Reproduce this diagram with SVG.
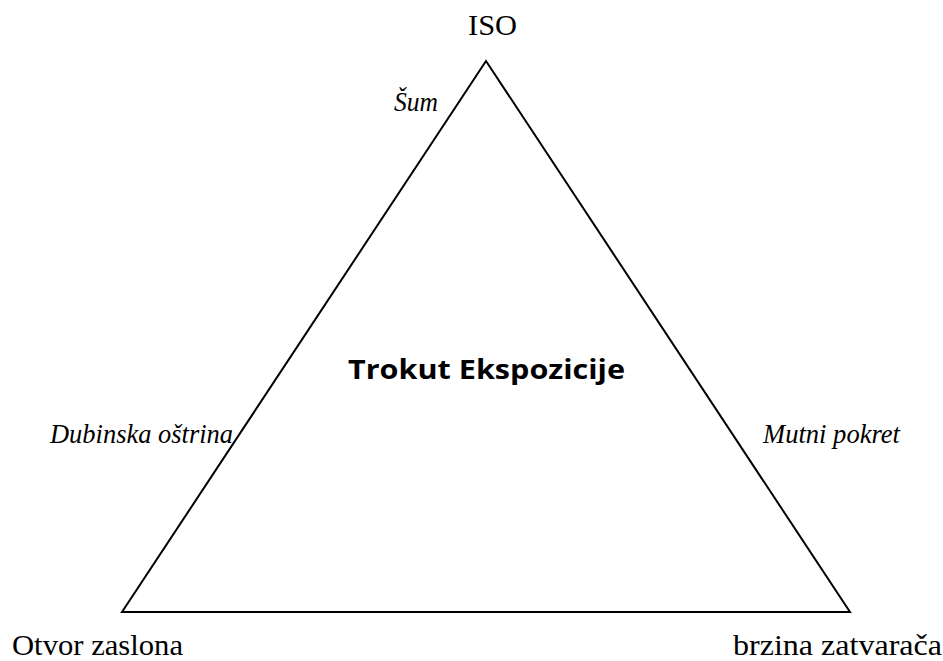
<svg xmlns="http://www.w3.org/2000/svg" width="943" height="661" viewBox="0 0 943 661">
<style>
.lbl{font-family:"Liberation Serif","Times New Roman",serif;font-size:30px;fill:#000}
.it{font-family:"Liberation Serif","Times New Roman",serif;font-size:26.5px;font-style:italic;fill:#000}
.ttl{font-family:"Open Sans","Noto Sans",sans-serif;font-size:26px;font-weight:bold;fill:#000}
</style>
<rect width="943" height="661" fill="#fff"/>
<g id="connectors">
<polygon points="486,61 122,612 850,612" fill="none" stroke="#000" stroke-width="2" stroke-linejoin="miter"/>
</g>
<g id="node-iso"><text class="lbl" x="468" y="35" textLength="49" lengthAdjust="spacingAndGlyphs">ISO</text></g>
<g id="node-otvor"><text class="lbl" x="12" y="655" textLength="171" lengthAdjust="spacingAndGlyphs">Otvor zaslona</text></g>
<g id="node-brzina"><text class="lbl" x="733" y="655" textLength="209" lengthAdjust="spacingAndGlyphs">brzina zatvarača</text></g>
<g id="label-sum"><text class="it" x="394" y="111" textLength="44" lengthAdjust="spacingAndGlyphs">Šum</text></g>
<g id="label-dubinska"><text class="it" x="50" y="443" textLength="183" lengthAdjust="spacingAndGlyphs">Dubinska oštrina</text></g>
<g id="label-mutni"><text class="it" x="763" y="443" textLength="137" lengthAdjust="spacingAndGlyphs">Mutni pokret</text></g>
<g id="title"><text class="ttl" x="348" y="379" textLength="277" lengthAdjust="spacingAndGlyphs">Trokut Ekspozicije</text></g>
</svg>
